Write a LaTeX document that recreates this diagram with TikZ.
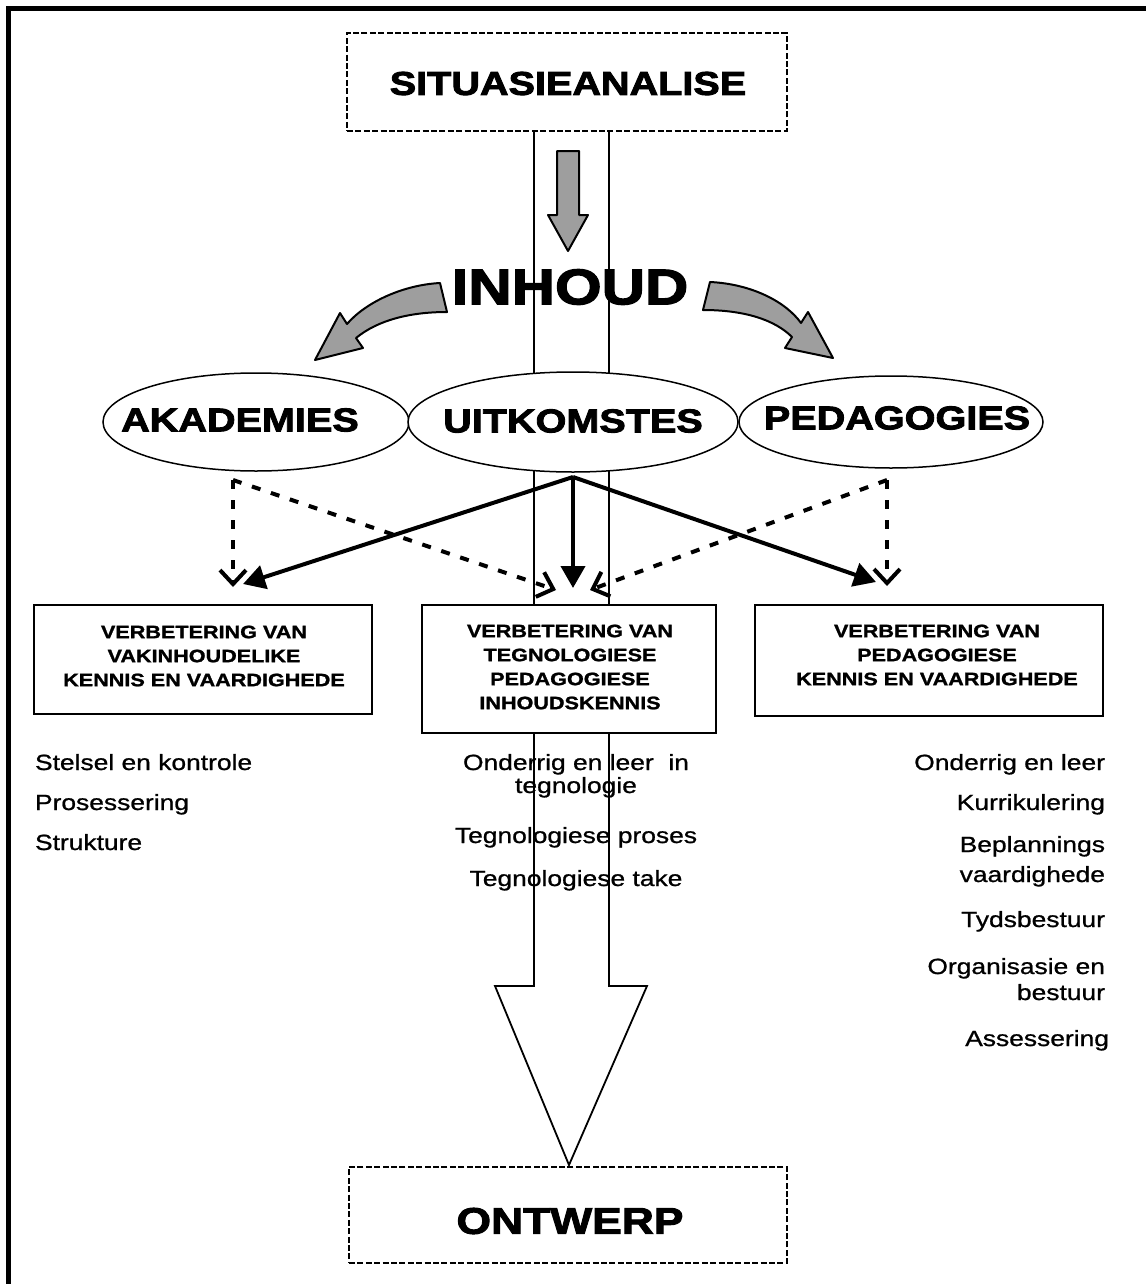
\documentclass[tikz,border=0pt]{standalone}
\usepackage{fontspec}
\setmainfont{Liberation Sans}[FakeStretch=1.2,UprightFeatures={FakeBold=0.9},BoldFeatures={FakeBold=1.3}]
\newfontfamily\hfnt{Liberation Sans}[FakeStretch=1.2,BoldFeatures={FakeBold=2.6}]
\usetikzlibrary{shapes.geometric,arrows.meta}
\tikzset{
  frame/.style={line width=2.5pt},
  dbox/.style={draw, dash pattern=on 3pt off 1.2pt, line width=0.8pt, fill=white, inner sep=0pt},
  vbox/.style={draw, line width=0.75pt, fill=white, inner sep=0pt},
  oval/.style={draw, ellipse, line width=0.75pt, fill=white, inner sep=0pt},
  txt/.style={inner sep=0pt, outer sep=0pt},
  head/.style={txt, font=\hfnt\bfseries\fontsize{16.5}{20}\selectfont},
  ovaltxt/.style={txt, font=\hfnt\bfseries\fontsize{16.5}{20}\selectfont},
  boxtxt/.style={txt, align=center, font=\bfseries\fontsize{9}{12}\selectfont},
  listtxt/.style={txt, font=\fontsize{11}{13}\selectfont},
  grayarr/.style={draw, line width=1pt, fill=black!38, line join=round},
  hollow/.style={draw, line width=0.9pt, line join=miter},
  solidarr/.style={line width=2pt, -{Triangle[length=11pt,width=12pt]}},
  dasharr/.style={line width=2pt, dash pattern=on 4.5pt off 5.5pt, -{Straight Barb[length=7pt,width=13pt,line width=2pt]}},
}
\begin{document}
\begin{tikzpicture}[x=0.5pt,y=-0.5pt]
\useasboundingbox (0,0) rectangle (1146,1284);
\fill[white] (0,0) rectangle (1146,1284);
% outer frame (left and top edges)
\draw[frame] (8.5,1284) -- (8.5,8.5) -- (1146,8.5);
% big hollow arrow
\draw[hollow] (534,131) -- (534,986) -- (495,986) -- (569,1165) -- (647,986) -- (609,986) -- (609,131);
% top and bottom boxes
\node[dbox, minimum width=220pt, minimum height=49pt] (sitbox) at (567,82) {};
\node[head] (sit) at (568,83.5) {SITUASIEANALISE};
\node[dbox, minimum width=219pt, minimum height=48pt] (ontbox) at (568,1215) {};
\node[head, font=\hfnt\bfseries\fontsize{18.5}{22}\selectfont] (ont) at (570,1221) {ONTWERP};
% INHOUD
\node[head, font=\hfnt\bfseries\fontsize{25}{30}\selectfont] (inh) at (570,287) {INHOUD};
% small gray arrow
\draw[grayarr] (557,151) -- (579,151) -- (579,215) -- (588,215) -- (568,251) -- (548,215) -- (557,215) -- cycle;
% curved gray arrows
\draw[grayarr] (440,283) .. controls (403,285) and (366,302) .. (347,324) -- (340,313) -- (315,360) -- (363,348) -- (356,338) .. controls (378,320) and (410,312) .. (447,312) -- cycle;
\draw[grayarr] (710,282) .. controls (752,284) and (786,302) .. (801,323) -- (808,312) -- (833,358) -- (785,348) -- (792,337) .. controls (775,320) and (745,310) .. (703,310) -- cycle;
% ellipses
\node[oval, minimum width=153pt, minimum height=49pt] (akad) at (256,422) {};
\node[oval, minimum width=152pt, minimum height=46pt] (peda) at (891,422) {};
\node[oval, minimum width=165pt, minimum height=50pt] (uitk) at (573,422) {};
\node[ovaltxt] (akadt) at (240,420) {AKADEMIES};
\node[ovaltxt] (uitkt) at (573,421) {UITKOMSTES};
\node[ovaltxt] (pedat) at (897,418) {PEDAGOGIES};
% boxes
\node[vbox, minimum width=169pt, minimum height=54.5pt] (lbox) at (203,659.5) {};
\node[vbox, minimum width=147pt, minimum height=64pt] (mbox) at (569,669) {};
\node[vbox, minimum width=174pt, minimum height=55.5pt] (rbox) at (929,660.5) {};
\node[boxtxt] (lboxt) at (204,656) {VERBETERING VAN\\VAKINHOUDELIKE\\KENNIS EN VAARDIGHEDE};
\node[boxtxt] (mboxt) at (570,667) {VERBETERING VAN\\TEGNOLOGIESE\\PEDAGOGIESE\\INHOUDSKENNIS};
\node[boxtxt] (rboxt) at (937,655) {VERBETERING VAN\\PEDAGOGIESE\\KENNIS EN VAARDIGHEDE};
% arrow coordinates
\coordinate (apex) at (573,477);
\coordinate (tl) at (243,584);
\coordinate (tc) at (573,588);
\coordinate (tr) at (876,582);
\coordinate (dl) at (233,480);
\coordinate (dlv) at (233,587);
\coordinate (dlc) at (556,590);
\coordinate (dr) at (887,480);
\coordinate (drv) at (887,586);
\coordinate (drc) at (590,590);
% dashed arrows
\draw[dasharr] (dl) -- (dlv);
\draw[dasharr] (dl) -- (dlc);
\draw[dasharr] (dr) -- (drv);
\draw[dasharr] (dr) -- (drc);
% solid arrows
\draw[solidarr] (apex) -- (tl);
\draw[solidarr] (apex) -- (tc);
\draw[solidarr] (apex) -- (tr);
% left list
\node[listtxt, anchor=base west] (l1) at (35,770) {Stelsel en kontrole};
\node[listtxt, anchor=base west] (l2) at (35,810) {Prosessering};
\node[listtxt, anchor=base west] (l3) at (35,850) {Strukture};
% middle list
\node[listtxt, anchor=base] (m1) at (576,770) {Onderrig en leer~ in};
\node[listtxt, anchor=base] (m2) at (576,793) {tegnologie};
\node[listtxt, anchor=base] (m3) at (576,843) {Tegnologiese proses};
\node[listtxt, anchor=base] (m4) at (576,886) {Tegnologiese take};
% right list
\node[listtxt, anchor=base east] (r1) at (1105,770) {Onderrig en leer};
\node[listtxt, anchor=base east] (r2) at (1105,810) {Kurrikulering};
\node[listtxt, anchor=base east] (r3) at (1105,852) {Beplannings};
\node[listtxt, anchor=base east] (r4) at (1105,882) {vaardighede};
\node[listtxt, anchor=base east] (r5) at (1105,927) {Tydsbestuur};
\node[listtxt, anchor=base east] (r6) at (1105,974) {Organisasie en};
\node[listtxt, anchor=base east] (r7) at (1105,1000) {bestuur};
\node[listtxt, anchor=base east] (r8) at (1109,1046) {Assessering};
\end{tikzpicture}
\end{document}
